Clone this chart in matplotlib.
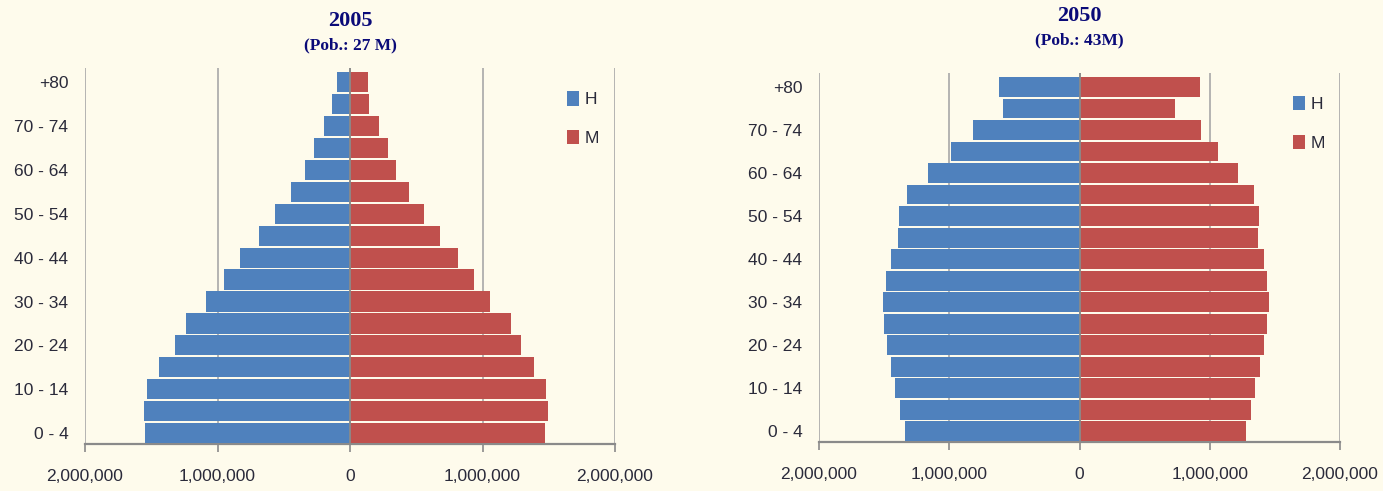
import matplotlib
matplotlib.use("Agg")
import matplotlib.pyplot as plt
from matplotlib.ticker import FuncFormatter

plt.rcParams["font.family"] = ["Liberation Sans", "DejaVu Sans"]

# age groups, bottom to top
ages = ["0 - 4", "5 - 9", "10 - 14", "15 - 19", "20 - 24", "25 - 29", "30 - 34",
        "35 - 39", "40 - 44", "45 - 49", "50 - 54", "55 - 59", "60 - 64",
        "65 - 69", "70 - 74", "75 - 79", "+80"]

# 2005 (values in persons)
h_2005 = [1547000, 1553000, 1530000, 1440000, 1323000, 1240000, 1087000, 950000,
          827000, 690000, 563000, 443000, 343000, 273000, 200000, 133000, 100000]
m_2005 = [1473000, 1493000, 1480000, 1390000, 1287000, 1213000, 1053000, 933000,
          817000, 680000, 557000, 443000, 347000, 290000, 217000, 143000, 133000]

# 2050
h_2050 = [1339000, 1376000, 1413000, 1446000, 1477000, 1500000, 1510000, 1483000,
          1446000, 1393000, 1383000, 1322000, 1164000, 987000, 819000, 587000, 620000]
m_2050 = [1275000, 1319000, 1349000, 1389000, 1419000, 1443000, 1456000, 1440000,
          1413000, 1369000, 1379000, 1339000, 1215000, 1064000, 936000, 735000, 923000]

panels = [("2005", "(Pob.: 27 M)", h_2005, m_2005),
          ("2050", "(Pob.: 43M)", h_2050, m_2050)]

BG = "#FEFBEC"
BLUE = "#4F81BD"
RED = "#C0504D"
TXT = "#2a2a3a"
TITLE = "#0a0a78"

fig = plt.figure(figsize=(13.83, 4.91), dpi=100, facecolor=BG)

rects = [[0.0615, 0.0957, 0.3832, 0.7658],
         [0.5922, 0.0998, 0.3767, 0.7515]]
title_y = [(21, 45), (16, 40)]

ypos = list(range(len(ages)))

for k, (year, sub, h, m) in enumerate(panels):
    ax = fig.add_axes(rects[k])
    ax.set_facecolor(BG)
    ax.barh(ypos, [-v for v in h], height=0.92, color=BLUE, zorder=3, label="H")
    ax.barh(ypos, m, height=0.92, color=RED, zorder=3, label="M")
    ax.axvline(0, color="#8a8a8a", lw=1.3, zorder=4)

    ax.set_xlim(-2000000, 2000000)
    ax.set_ylim(-0.5, len(ages) - 0.5 + 0.15)
    ax.set_xticks([-2000000, -1000000, 0, 1000000, 2000000])
    ax.xaxis.set_major_formatter(FuncFormatter(lambda v, p: "{:,}".format(abs(int(v)))))
    ax.set_yticks(ypos[::2])
    ax.set_yticklabels(ages[::2])

    ax.grid(axis="x", color="#a8a8a8", lw=1.2, zorder=0)
    ax.grid(axis="y", visible=False)
    for s in ["top", "left", "right"]:
        ax.spines[s].set_visible(False)
    ax.spines["bottom"].set_color("#8a8a8a")
    ax.spines["bottom"].set_linewidth(1.6)

    ax.tick_params(axis="x", direction="out", length=6, width=1.2, color="#8a8a8a",
                   labelsize=12.5, labelcolor=TXT, pad=12)
    ax.tick_params(axis="y", length=0, labelsize=12.5, labelcolor=TXT, pad=12)

    leg = ax.legend(loc="upper left", bbox_to_anchor=(0.88, 0.98), frameon=False,
                    handlelength=0.7, handleheight=0.9, handletextpad=0.3,
                    labelspacing=1.3, fontsize=12.5)
    for t in leg.get_texts():
        t.set_color(TXT)

    # titles centred on the zero line
    cx = rects[k][0] + rects[k][2] / 2
    fig.text(cx, 1 - title_y[k][0] / 491, year, ha="center", va="center",
             family="Liberation Serif", fontsize=16, weight="bold", color=TITLE)
    fig.text(cx, 1 - title_y[k][1] / 491, sub, ha="center", va="center",
             family="Liberation Serif", fontsize=12.5, weight="bold", color=TITLE)

fig.savefig("out.png", dpi=100, facecolor=BG)
